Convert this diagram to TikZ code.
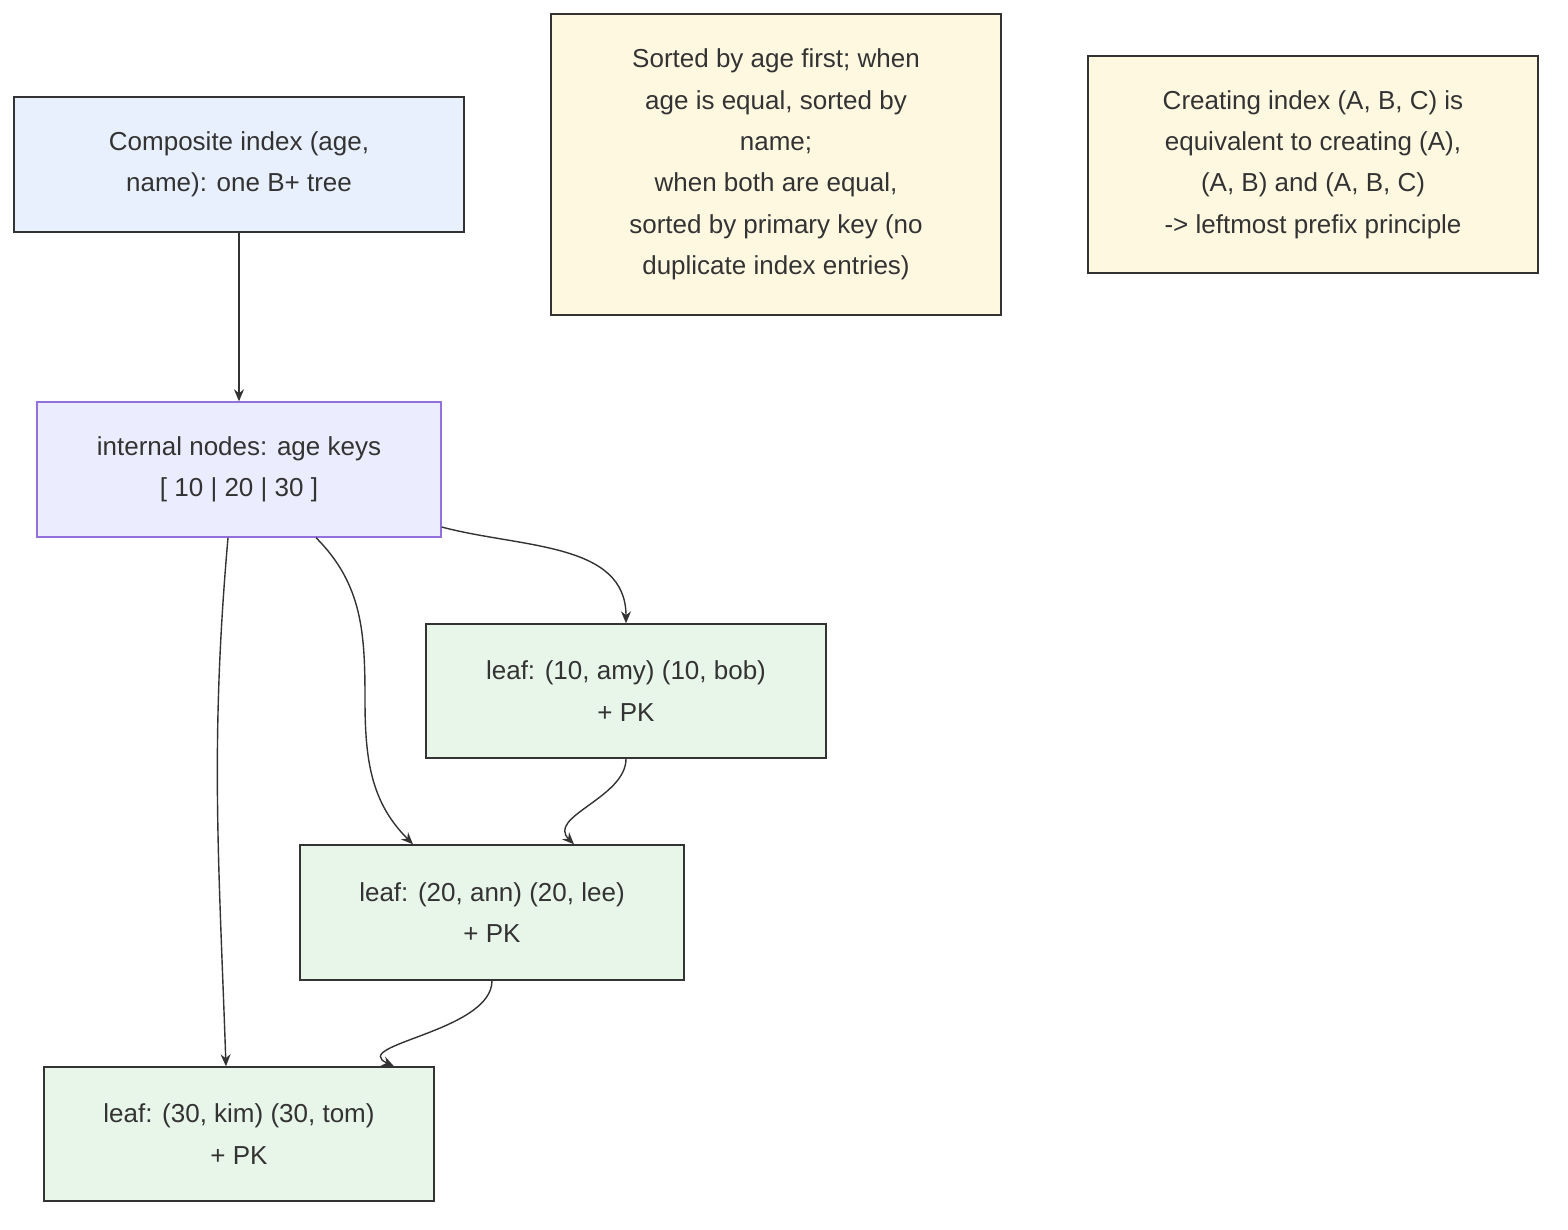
\documentclass[tikz,border=0pt]{standalone}
\usepackage{fontspec}
\setmainfont{Liberation Sans}
\usetikzlibrary{arrows.meta}
\definecolor{ink}{HTML}{333333}
\definecolor{topfill}{HTML}{E8F0FE}
\definecolor{midfill}{HTML}{ECECFF}
\definecolor{midline}{HTML}{9370DB}
\definecolor{leaffill}{HTML}{E8F5E9}
\definecolor{notefill}{HTML}{FFF8E1}
\tikzset{
  box/.style={draw=ink, line width=0.7pt, align=center, text=ink, inner sep=0pt,
    font=\fontsize{13}{20.7}\selectfont},
  leaf/.style={box, fill=leaffill},
  note/.style={box, fill=notefill},
  link/.style={draw=ink, line width=0.7pt, -{Stealth[length=6pt,width=5pt]}}
}
\begin{document}
\begin{tikzpicture}[x=0.5pt, y=-0.5pt]
    \useasboundingbox (0,0) rectangle (1568,1230);

    \node(top) [box, fill=topfill, minimum width=225pt, minimum height=67.5pt] at (239,164.5)
        {Composite index (age,\\ name): one B+ tree};
    \node(inner) [box, fill=midfill, draw=midline, minimum width=202pt, minimum height=67.5pt] at (239,469.5)
        {internal nodes: age keys\\ {[} 10 | 20 | 30 {]}};
    \node(leafA) [leaf, minimum width=200pt, minimum height=67pt] at (626,691)
        {leaf: (10, amy) (10, bob)\\ + PK};
    \node(leafB) [leaf, minimum width=192pt, minimum height=67.5pt] at (492,912.5)
        {leaf: (20, ann) (20, lee)\\ + PK};
    \node(leafC) [leaf, minimum width=195pt, minimum height=67pt] at (239,1134)
        {leaf: (30, kim) (30, tom)\\ + PK};

    \node(order) [note, minimum width=225pt, minimum height=150.5pt] at (776,164.5)
        {Sorted by age first; when\\ age is equal, sorted by\\ name;\\ when both are equal,\\ sorted by primary key (no\\ duplicate index entries)};
    \node(prefix) [note, minimum width=225pt, minimum height=108.5pt] at (1313,164.5)
        {Creating index (A, B, C) is\\ equivalent to creating (A),\\ (A, B) and (A, B, C)\\ -> leftmost prefix principle};

    \draw [link] (top) -- (inner);
    \draw [link] ([xshift=-5.5pt]inner.south) to [out=-95, in=92] ([xshift=-6.5pt]leafC.north);
    \draw [link] ([xshift=38.5pt]inner.south) to [out=-45, in=90] (365,700) to [out=-90, in=135] ([xshift=-39.5pt]leafB.north);
    \draw [link] ([yshift=-28.75pt]inner.east) to [out=-15, in=90] (leafA.north);
    \draw [link] (leafA.south) to [out=-90, in=135] ([xshift=41pt]leafB.north);
    \draw [link] (leafB.south) to [out=-90, in=155] ([xshift=77.5pt]leafC.north);
\end{tikzpicture}
\end{document}
